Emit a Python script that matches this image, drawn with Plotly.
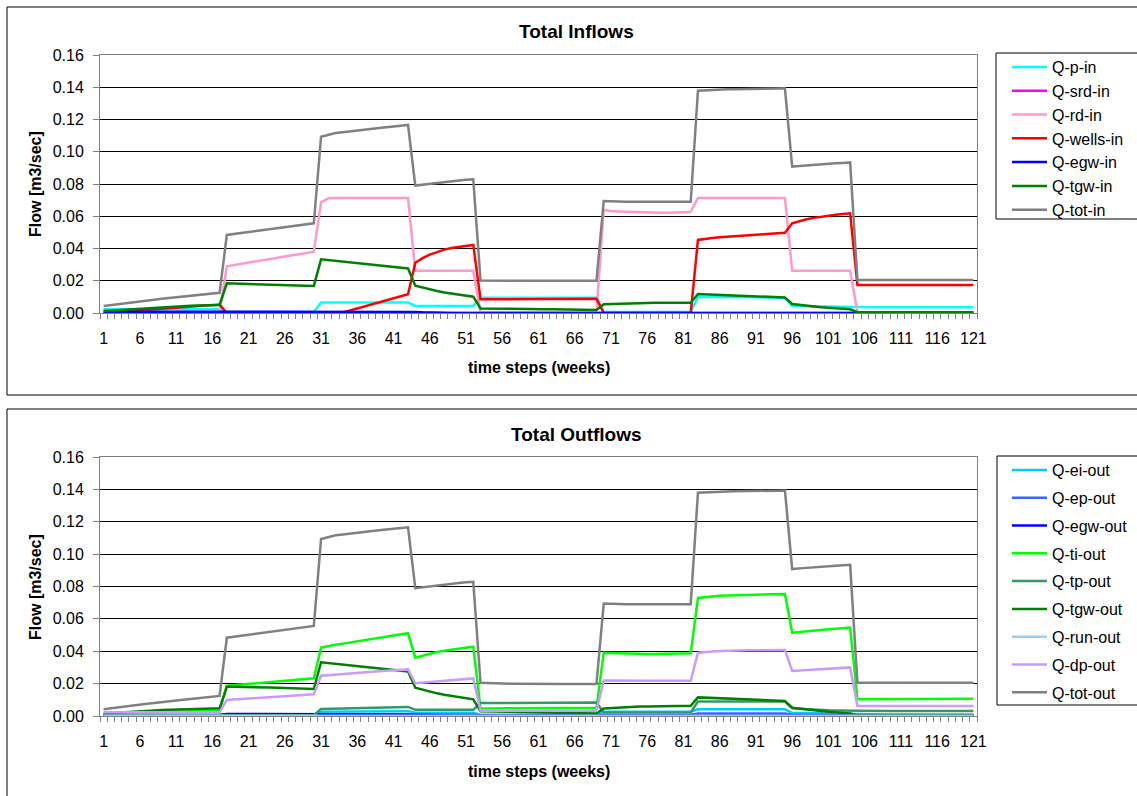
import plotly.graph_objects as go

# ---------------- data ----------------
weeks = list(range(1, 122))
tick_weeks = list(range(1, 122, 5))
tick_labels = [str(w) for w in tick_weeks]

# segments: wk1-17 | 18-30 | 31-43 | 44-52 | 53-69 | 70-82 | 83-95 | 96-104 | 105-121
q_p_in = (
    [0.0023, 0.0023, 0.0023, 0.0023, 0.0023, 0.0023, 0.0023, 0.0023, 0.0023, 0.0023, 0.0023, 0.0023, 0.0023, 0.0023, 0.0023, 0.0023, 0.0023]
    + [0.0006, 0.0006, 0.0006, 0.0006, 0.0006, 0.0006, 0.0006, 0.0006, 0.0006, 0.0006, 0.0006, 0.0006, 0.0006]
    + [0.0065, 0.0065, 0.0065, 0.0065, 0.0065, 0.0065, 0.0065, 0.0065, 0.0065, 0.0065, 0.0065, 0.0065, 0.0065]
    + [0.0044, 0.0044, 0.0044, 0.0044, 0.0044, 0.0044, 0.0044, 0.0044, 0.0044]
    + [0.0095, 0.0095, 0.0095, 0.0095, 0.0095, 0.0095, 0.0095, 0.0095, 0.0095, 0.0095, 0.0095, 0.0095, 0.0095, 0.0095, 0.0095, 0.0095, 0.0095]
    + [0.0006, 0.0006, 0.0006, 0.0006, 0.0006, 0.0006, 0.0006, 0.0006, 0.0006, 0.0006, 0.0006, 0.0006, 0.0006]
    + [0.0101, 0.0101, 0.0100, 0.0100, 0.0099, 0.0099, 0.0098, 0.0097, 0.0097, 0.0096, 0.0095, 0.0094, 0.0093]
    + [0.0043, 0.0042, 0.0041, 0.0040, 0.0039, 0.0038, 0.0037, 0.0037, 0.0036]
    + [0.0035, 0.0035, 0.0035, 0.0035, 0.0035, 0.0035, 0.0035, 0.0035, 0.0035, 0.0035, 0.0035, 0.0035, 0.0035, 0.0035, 0.0035, 0.0035, 0.0035]
)

q_srd_in = (
    [0.0, 0.0, 0.0, 0.0, 0.0, 0.0, 0.0, 0.0, 0.0, 0.0, 0.0, 0.0, 0.0, 0.0, 0.0, 0.0, 0.0]
    + [0.0, 0.0, 0.0, 0.0, 0.0, 0.0, 0.0, 0.0, 0.0, 0.0, 0.0, 0.0, 0.0]
    + [0.0, 0.0, 0.0, 0.0, 0.0, 0.0, 0.0, 0.0, 0.0, 0.0, 0.0, 0.0, 0.0]
    + [0.0, 0.0, 0.0, 0.0, 0.0, 0.0, 0.0, 0.0, 0.0]
    + [0.0, 0.0, 0.0, 0.0, 0.0, 0.0, 0.0, 0.0, 0.0, 0.0, 0.0, 0.0, 0.0, 0.0, 0.0, 0.0, 0.0]
    + [0.0, 0.0, 0.0, 0.0, 0.0, 0.0, 0.0, 0.0, 0.0, 0.0, 0.0, 0.0, 0.0]
    + [0.0, 0.0, 0.0, 0.0, 0.0, 0.0, 0.0, 0.0, 0.0, 0.0, 0.0, 0.0, 0.0]
    + [0.0, 0.0, 0.0, 0.0, 0.0, 0.0, 0.0, 0.0, 0.0]
    + [0.0, 0.0, 0.0, 0.0, 0.0, 0.0, 0.0, 0.0, 0.0, 0.0, 0.0, 0.0, 0.0, 0.0, 0.0, 0.0, 0.0]
)

q_rd_in = (
    [0.0005, 0.0005, 0.0005, 0.0005, 0.0005, 0.0005, 0.0005, 0.0005, 0.0005, 0.0005, 0.0005, 0.0005, 0.0005, 0.0005, 0.0005, 0.0005, 0.0005]
    + [0.0290, 0.0298, 0.0305, 0.0313, 0.0320, 0.0328, 0.0335, 0.0343, 0.0350, 0.0358, 0.0365, 0.0373, 0.0380]
    + [0.0686, 0.0711, 0.0713, 0.0713, 0.0713, 0.0713, 0.0713, 0.0713, 0.0713, 0.0713, 0.0713, 0.0713, 0.0713]
    + [0.0262, 0.0262, 0.0262, 0.0262, 0.0262, 0.0262, 0.0262, 0.0262, 0.0262]
    + [0.0005, 0.0005, 0.0005, 0.0005, 0.0005, 0.0005, 0.0005, 0.0005, 0.0005, 0.0005, 0.0005, 0.0005, 0.0005, 0.0005, 0.0005, 0.0005, 0.0005]
    + [0.0639, 0.0632, 0.0630, 0.0628, 0.0626, 0.0624, 0.0623, 0.0622, 0.0622, 0.0622, 0.0622, 0.0623, 0.0626]
    + [0.0713, 0.0713, 0.0713, 0.0713, 0.0713, 0.0713, 0.0713, 0.0713, 0.0713, 0.0713, 0.0713, 0.0713, 0.0713]
    + [0.0262, 0.0262, 0.0262, 0.0262, 0.0262, 0.0262, 0.0262, 0.0262, 0.0262]
    + [0.0005, 0.0005, 0.0005, 0.0005, 0.0005, 0.0005, 0.0005, 0.0005, 0.0005, 0.0005, 0.0005, 0.0005, 0.0005, 0.0005, 0.0005, 0.0005, 0.0005]
)

q_wells_in = (
    [0.0000, 0.0004, 0.0008, 0.0011, 0.0015, 0.0018, 0.0021, 0.0024, 0.0027, 0.0030, 0.0033, 0.0036, 0.0039, 0.0042, 0.0045, 0.0048, 0.0052]
    + [0.0, 0.0, 0.0, 0.0, 0.0, 0.0, 0.0, 0.0, 0.0, 0.0, 0.0, 0.0, 0.0]
    + [0.0000, 0.0000, 0.0000, 0.0003, 0.0015, 0.0028, 0.0041, 0.0054, 0.0067, 0.0080, 0.0093, 0.0104, 0.0116]
    + [0.0312, 0.0340, 0.0362, 0.0380, 0.0393, 0.0403, 0.0410, 0.0416, 0.0422]
    + [0.0085, 0.0085, 0.0085, 0.0085, 0.0085, 0.0086, 0.0086, 0.0087, 0.0087, 0.0087, 0.0088, 0.0088, 0.0088, 0.0088, 0.0088, 0.0088, 0.0088]
    + [0.0, 0.0, 0.0, 0.0, 0.0, 0.0, 0.0, 0.0, 0.0, 0.0, 0.0, 0.0, 0.0]
    + [0.0453, 0.0460, 0.0465, 0.0469, 0.0473, 0.0477, 0.0480, 0.0483, 0.0486, 0.0489, 0.0492, 0.0495, 0.0498]
    + [0.0556, 0.0570, 0.0581, 0.0590, 0.0598, 0.0605, 0.0610, 0.0614, 0.0618]
    + [0.0173, 0.0173, 0.0173, 0.0173, 0.0173, 0.0173, 0.0173, 0.0173, 0.0173, 0.0173, 0.0173, 0.0173, 0.0173, 0.0173, 0.0173, 0.0173, 0.0173]
)

q_egw_in = (
    [0.0008, 0.0008, 0.0008, 0.0008, 0.0008, 0.0008, 0.0008, 0.0008, 0.0008, 0.0008, 0.0008, 0.0008, 0.0008, 0.0008, 0.0008, 0.0008, 0.0008]
    + [0.0010, 0.0010, 0.0010, 0.0010, 0.0010, 0.0010, 0.0010, 0.0010, 0.0010, 0.0010, 0.0010, 0.0010, 0.0010]
    + [0.0010, 0.0010, 0.0010, 0.0010, 0.0010, 0.0010, 0.0010, 0.0010, 0.0010, 0.0009, 0.0009, 0.0009, 0.0008]
    + [0.0006, 0.0004, 0.0002, 0.0001, 0.0, 0.0, 0.0, 0.0, 0.0]
    + [0.0, 0.0, 0.0, 0.0, 0.0, 0.0, 0.0, 0.0, 0.0, 0.0, 0.0, 0.0, 0.0, 0.0, 0.0, 0.0, 0.0]
    + [0.0, 0.0, 0.0, 0.0, 0.0, 0.0, 0.0, 0.0, 0.0, 0.0, 0.0, 0.0, 0.0]
    + [0.0, 0.0, 0.0, 0.0, 0.0, 0.0, 0.0, 0.0, 0.0, 0.0, 0.0, 0.0, 0.0]
    + [0.0, 0.0, 0.0, 0.0, 0.0, 0.0, 0.0, 0.0, 0.0]
    + [0.0, 0.0, 0.0, 0.0, 0.0, 0.0, 0.0, 0.0, 0.0, 0.0, 0.0, 0.0, 0.0, 0.0, 0.0, 0.0, 0.0]
)

q_tgw_in = (
    [0.0012, 0.0015, 0.0018, 0.0021, 0.0024, 0.0027, 0.0030, 0.0033, 0.0036, 0.0039, 0.0041, 0.0043, 0.0045, 0.0046, 0.0047, 0.0048, 0.0050]
    + [0.0184, 0.0183, 0.0182, 0.0181, 0.0180, 0.0179, 0.0178, 0.0177, 0.0176, 0.0175, 0.0174, 0.0171, 0.0168]
    + [0.0333, 0.0328, 0.0323, 0.0318, 0.0313, 0.0308, 0.0303, 0.0298, 0.0293, 0.0288, 0.0284, 0.0280, 0.0276]
    + [0.0169, 0.0157, 0.0146, 0.0136, 0.0127, 0.0120, 0.0113, 0.0107, 0.0101]
    + [0.0028, 0.0027, 0.0027, 0.0026, 0.0026, 0.0025, 0.0025, 0.0024, 0.0024, 0.0023, 0.0023, 0.0022, 0.0022, 0.0021, 0.0021, 0.0020, 0.0019]
    + [0.0054, 0.0056, 0.0058, 0.0059, 0.0060, 0.0061, 0.0062, 0.0063, 0.0063, 0.0064, 0.0064, 0.0064, 0.0064]
    + [0.0118, 0.0116, 0.0114, 0.0112, 0.0110, 0.0108, 0.0106, 0.0104, 0.0102, 0.0100, 0.0098, 0.0097, 0.0096]
    + [0.0056, 0.0050, 0.0045, 0.0040, 0.0036, 0.0032, 0.0029, 0.0026, 0.0023]
    + [0.0005, 0.0005, 0.0005, 0.0005, 0.0005, 0.0005, 0.0005, 0.0005, 0.0005, 0.0005, 0.0005, 0.0005, 0.0005, 0.0005, 0.0005, 0.0005, 0.0005]
)

q_tot_in = (
    [0.0043, 0.0048, 0.0053, 0.0058, 0.0064, 0.0070, 0.0076, 0.0082, 0.0088, 0.0093, 0.0098, 0.0102, 0.0106, 0.0110, 0.0114, 0.0119, 0.0125]
    + [0.0484, 0.0490, 0.0496, 0.0502, 0.0508, 0.0513, 0.0518, 0.0524, 0.0530, 0.0536, 0.0542, 0.0549, 0.0556]
    + [0.1093, 0.1105, 0.1116, 0.1121, 0.1127, 0.1133, 0.1139, 0.1143, 0.1147, 0.1152, 0.1157, 0.1162, 0.1166]
    + [0.0790, 0.0796, 0.0802, 0.0808, 0.0813, 0.0818, 0.0822, 0.0826, 0.0829]
    + [0.0201, 0.0201, 0.0200, 0.0200, 0.0200, 0.0200, 0.0200, 0.0200, 0.0200, 0.0200, 0.0200, 0.0200, 0.0200, 0.0200, 0.0200, 0.0200, 0.0200]
    + [0.0695, 0.0692, 0.0690, 0.0690, 0.0690, 0.0690, 0.0690, 0.0690, 0.0690, 0.0690, 0.0690, 0.0690, 0.0690]
    + [0.1379, 0.1382, 0.1385, 0.1386, 0.1387, 0.1388, 0.1388, 0.1389, 0.1390, 0.1390, 0.1391, 0.1392, 0.1393]
    + [0.0908, 0.0912, 0.0916, 0.0919, 0.0922, 0.0925, 0.0928, 0.0931, 0.0934]
    + [0.0205, 0.0205, 0.0205, 0.0205, 0.0205, 0.0205, 0.0205, 0.0205, 0.0205, 0.0205, 0.0205, 0.0205, 0.0205, 0.0205, 0.0205, 0.0205, 0.0205]
)

q_ei_out = (
    [0.0005, 0.0005, 0.0005, 0.0005, 0.0005, 0.0005, 0.0005, 0.0005, 0.0005, 0.0005, 0.0005, 0.0005, 0.0005, 0.0005, 0.0005, 0.0005, 0.0005]
    + [0.0008, 0.0008, 0.0008, 0.0008, 0.0008, 0.0008, 0.0008, 0.0008, 0.0008, 0.0008, 0.0008, 0.0008, 0.0008]
    + [0.0026, 0.0026, 0.0027, 0.0027, 0.0027, 0.0028, 0.0028, 0.0028, 0.0029, 0.0029, 0.0029, 0.0030, 0.0030]
    + [0.0020, 0.0020, 0.0020, 0.0020, 0.0020, 0.0020, 0.0020, 0.0020, 0.0020]
    + [0.0008, 0.0008, 0.0008, 0.0008, 0.0008, 0.0008, 0.0008, 0.0008, 0.0008, 0.0008, 0.0008, 0.0008, 0.0008, 0.0008, 0.0008, 0.0008, 0.0008]
    + [0.0027, 0.0027, 0.0027, 0.0027, 0.0027, 0.0027, 0.0027, 0.0027, 0.0027, 0.0027, 0.0027, 0.0027, 0.0027]
    + [0.0041, 0.0041, 0.0041, 0.0041, 0.0041, 0.0041, 0.0041, 0.0041, 0.0041, 0.0041, 0.0041, 0.0041, 0.0041]
    + [0.0020, 0.0019, 0.0018, 0.0017, 0.0016, 0.0015, 0.0014, 0.0013, 0.0012]
    + [0.0010, 0.0010, 0.0010, 0.0010, 0.0010, 0.0010, 0.0010, 0.0010, 0.0010, 0.0010, 0.0010, 0.0010, 0.0010, 0.0010, 0.0010, 0.0010, 0.0010]
)

q_ep_out = (
    [0.0004, 0.0004, 0.0004, 0.0004, 0.0004, 0.0004, 0.0004, 0.0004, 0.0004, 0.0004, 0.0004, 0.0004, 0.0004, 0.0004, 0.0004, 0.0004, 0.0004]
    + [0.0010, 0.0010, 0.0010, 0.0010, 0.0010, 0.0010, 0.0010, 0.0010, 0.0010, 0.0010, 0.0010, 0.0010, 0.0010]
    + [0.0012, 0.0012, 0.0012, 0.0012, 0.0012, 0.0012, 0.0012, 0.0012, 0.0012, 0.0012, 0.0012, 0.0012, 0.0012]
    + [0.0008, 0.0008, 0.0008, 0.0008, 0.0008, 0.0008, 0.0008, 0.0008, 0.0008]
    + [0.0004, 0.0004, 0.0004, 0.0004, 0.0004, 0.0004, 0.0004, 0.0004, 0.0004, 0.0004, 0.0004, 0.0004, 0.0004, 0.0004, 0.0004, 0.0004, 0.0004]
    + [0.0008, 0.0008, 0.0008, 0.0008, 0.0008, 0.0008, 0.0008, 0.0008, 0.0008, 0.0008, 0.0008, 0.0008, 0.0008]
    + [0.0015, 0.0015, 0.0015, 0.0015, 0.0015, 0.0015, 0.0015, 0.0015, 0.0015, 0.0015, 0.0015, 0.0015, 0.0015]
    + [0.0008, 0.0008, 0.0008, 0.0008, 0.0008, 0.0008, 0.0008, 0.0008, 0.0008]
    + [0.0004, 0.0004, 0.0004, 0.0004, 0.0004, 0.0004, 0.0004, 0.0004, 0.0004, 0.0004, 0.0004, 0.0004, 0.0004, 0.0004, 0.0004, 0.0004, 0.0004]
)

q_egw_out = (
    [0.0006, 0.0006, 0.0006, 0.0006, 0.0006, 0.0006, 0.0006, 0.0006, 0.0006, 0.0006, 0.0006, 0.0006, 0.0006, 0.0006, 0.0006, 0.0006, 0.0006]
    + [0.0013, 0.0013, 0.0013, 0.0013, 0.0013, 0.0013, 0.0013, 0.0013, 0.0013, 0.0013, 0.0013, 0.0013, 0.0013]
    + [0.0013, 0.0013, 0.0012, 0.0012, 0.0012, 0.0012, 0.0012, 0.0011, 0.0011, 0.0011, 0.0010, 0.0010, 0.0009]
    + [0.0007, 0.0005, 0.0003, 0.0002, 0.0001, 0.0001, 0.0001, 0.0001, 0.0001]
    + [0.0001, 0.0001, 0.0001, 0.0001, 0.0001, 0.0001, 0.0001, 0.0001, 0.0001, 0.0001, 0.0001, 0.0001, 0.0001, 0.0001, 0.0001, 0.0001, 0.0001]
    + [0.0001, 0.0001, 0.0001, 0.0001, 0.0001, 0.0001, 0.0001, 0.0001, 0.0001, 0.0001, 0.0001, 0.0001, 0.0001]
    + [0.0001, 0.0001, 0.0001, 0.0001, 0.0001, 0.0001, 0.0001, 0.0001, 0.0001, 0.0001, 0.0001, 0.0001, 0.0001]
    + [0.0001, 0.0001, 0.0001, 0.0001, 0.0001, 0.0001, 0.0001, 0.0001, 0.0001]
    + [0.0001, 0.0001, 0.0001, 0.0001, 0.0001, 0.0001, 0.0001, 0.0001, 0.0001, 0.0001, 0.0001, 0.0001, 0.0001, 0.0001, 0.0001, 0.0001, 0.0001]
)

q_ti_out = (
    [0.0010, 0.0012, 0.0014, 0.0016, 0.0018, 0.0020, 0.0022, 0.0024, 0.0025, 0.0026, 0.0027, 0.0028, 0.0029, 0.0030, 0.0031, 0.0032, 0.0033]
    + [0.0187, 0.0191, 0.0195, 0.0199, 0.0203, 0.0207, 0.0211, 0.0214, 0.0218, 0.0221, 0.0225, 0.0229, 0.0233]
    + [0.0422, 0.0432, 0.0440, 0.0447, 0.0454, 0.0461, 0.0468, 0.0475, 0.0482, 0.0489, 0.0496, 0.0503, 0.0511]
    + [0.0360, 0.0373, 0.0385, 0.0395, 0.0403, 0.0410, 0.0416, 0.0422, 0.0428]
    + [0.0047, 0.0047, 0.0048, 0.0048, 0.0048, 0.0049, 0.0049, 0.0049, 0.0050, 0.0050, 0.0050, 0.0050, 0.0050, 0.0050, 0.0050, 0.0051, 0.0051]
    + [0.0391, 0.0389, 0.0387, 0.0386, 0.0385, 0.0384, 0.0383, 0.0383, 0.0383, 0.0383, 0.0384, 0.0385, 0.0387]
    + [0.0729, 0.0735, 0.0740, 0.0743, 0.0745, 0.0747, 0.0748, 0.0749, 0.0750, 0.0751, 0.0752, 0.0753, 0.0754]
    + [0.0515, 0.0520, 0.0524, 0.0528, 0.0532, 0.0536, 0.0539, 0.0543, 0.0546]
    + [0.0103, 0.0103, 0.0103, 0.0103, 0.0103, 0.0103, 0.0103, 0.0103, 0.0103, 0.0103, 0.0103, 0.0103, 0.0103, 0.0103, 0.0103, 0.0104, 0.0106]
)

q_tp_out = (
    [0.0005, 0.0005, 0.0005, 0.0005, 0.0005, 0.0005, 0.0005, 0.0005, 0.0005, 0.0005, 0.0005, 0.0005, 0.0005, 0.0005, 0.0005, 0.0005, 0.0005]
    + [0.0005, 0.0005, 0.0005, 0.0005, 0.0005, 0.0005, 0.0005, 0.0005, 0.0005, 0.0005, 0.0005, 0.0005, 0.0005]
    + [0.0044, 0.0045, 0.0046, 0.0047, 0.0048, 0.0049, 0.0050, 0.0051, 0.0052, 0.0053, 0.0054, 0.0055, 0.0056]
    + [0.0038, 0.0038, 0.0038, 0.0038, 0.0038, 0.0038, 0.0038, 0.0038, 0.0038]
    + [0.0080, 0.0080, 0.0081, 0.0081, 0.0082, 0.0082, 0.0082, 0.0083, 0.0083, 0.0083, 0.0083, 0.0084, 0.0084, 0.0084, 0.0084, 0.0084, 0.0084]
    + [0.0022, 0.0022, 0.0022, 0.0022, 0.0022, 0.0022, 0.0022, 0.0022, 0.0022, 0.0022, 0.0022, 0.0022, 0.0022]
    + [0.0089, 0.0089, 0.0089, 0.0089, 0.0089, 0.0089, 0.0089, 0.0089, 0.0089, 0.0089, 0.0089, 0.0089, 0.0089]
    + [0.0047, 0.0044, 0.0041, 0.0039, 0.0037, 0.0035, 0.0034, 0.0033, 0.0032]
    + [0.0031, 0.0031, 0.0031, 0.0031, 0.0031, 0.0031, 0.0031, 0.0031, 0.0031, 0.0031, 0.0031, 0.0031, 0.0031, 0.0031, 0.0031, 0.0031, 0.0031]
)

q_tgw_out = (
    [0.0016, 0.0018, 0.0021, 0.0024, 0.0027, 0.0030, 0.0032, 0.0034, 0.0037, 0.0039, 0.0041, 0.0043, 0.0044, 0.0045, 0.0046, 0.0047, 0.0047]
    + [0.0181, 0.0180, 0.0180, 0.0179, 0.0178, 0.0177, 0.0176, 0.0175, 0.0174, 0.0173, 0.0172, 0.0170, 0.0167]
    + [0.0332, 0.0327, 0.0322, 0.0318, 0.0313, 0.0308, 0.0303, 0.0298, 0.0294, 0.0289, 0.0285, 0.0280, 0.0275]
    + [0.0175, 0.0162, 0.0150, 0.0140, 0.0131, 0.0123, 0.0116, 0.0109, 0.0103]
    + [0.0030, 0.0029, 0.0028, 0.0027, 0.0026, 0.0025, 0.0024, 0.0023, 0.0022, 0.0021, 0.0020, 0.0019, 0.0019, 0.0018, 0.0017, 0.0017, 0.0016]
    + [0.0047, 0.0050, 0.0052, 0.0054, 0.0056, 0.0058, 0.0059, 0.0060, 0.0061, 0.0062, 0.0062, 0.0062, 0.0063]
    + [0.0115, 0.0113, 0.0111, 0.0109, 0.0107, 0.0105, 0.0103, 0.0101, 0.0099, 0.0097, 0.0095, 0.0094, 0.0093]
    + [0.0051, 0.0045, 0.0040, 0.0035, 0.0031, 0.0027, 0.0023, 0.0019, 0.0016]
    + [0.0003, 0.0003, 0.0003, 0.0003, 0.0003, 0.0003, 0.0003, 0.0003, 0.0003, 0.0003, 0.0003, 0.0003, 0.0003, 0.0003, 0.0003, 0.0003, 0.0003]
)

q_run_out = (
    [0.0002, 0.0002, 0.0002, 0.0002, 0.0002, 0.0002, 0.0002, 0.0002, 0.0002, 0.0002, 0.0002, 0.0002, 0.0002, 0.0002, 0.0002, 0.0002, 0.0002]
    + [0.0002, 0.0002, 0.0002, 0.0002, 0.0002, 0.0002, 0.0002, 0.0002, 0.0002, 0.0002, 0.0002, 0.0002, 0.0002]
    + [0.0002, 0.0002, 0.0002, 0.0002, 0.0002, 0.0002, 0.0002, 0.0002, 0.0002, 0.0002, 0.0002, 0.0002, 0.0002]
    + [0.0002, 0.0002, 0.0002, 0.0002, 0.0002, 0.0002, 0.0002, 0.0002, 0.0002]
    + [0.0002, 0.0002, 0.0002, 0.0002, 0.0002, 0.0002, 0.0002, 0.0002, 0.0002, 0.0002, 0.0002, 0.0002, 0.0002, 0.0002, 0.0002, 0.0002, 0.0002]
    + [0.0002, 0.0002, 0.0002, 0.0002, 0.0002, 0.0002, 0.0002, 0.0002, 0.0002, 0.0002, 0.0002, 0.0002, 0.0002]
    + [0.0002, 0.0002, 0.0002, 0.0002, 0.0002, 0.0002, 0.0002, 0.0002, 0.0002, 0.0002, 0.0002, 0.0002, 0.0002]
    + [0.0002, 0.0002, 0.0002, 0.0002, 0.0002, 0.0002, 0.0002, 0.0002, 0.0002]
    + [0.0002, 0.0002, 0.0002, 0.0002, 0.0002, 0.0002, 0.0002, 0.0002, 0.0002, 0.0002, 0.0002, 0.0002, 0.0002, 0.0002, 0.0002, 0.0002, 0.0002]
)

q_dp_out = (
    [0.0023, 0.0023, 0.0023, 0.0023, 0.0023, 0.0023, 0.0023, 0.0023, 0.0023, 0.0023, 0.0023, 0.0023, 0.0023, 0.0023, 0.0023, 0.0023, 0.0023]
    + [0.0099, 0.0102, 0.0105, 0.0108, 0.0111, 0.0114, 0.0117, 0.0120, 0.0123, 0.0125, 0.0128, 0.0131, 0.0134]
    + [0.0249, 0.0253, 0.0257, 0.0261, 0.0265, 0.0268, 0.0271, 0.0274, 0.0277, 0.0280, 0.0283, 0.0286, 0.0288]
    + [0.0202, 0.0206, 0.0210, 0.0214, 0.0218, 0.0222, 0.0226, 0.0229, 0.0232]
    + [0.0033, 0.0033, 0.0033, 0.0033, 0.0033, 0.0033, 0.0033, 0.0033, 0.0033, 0.0033, 0.0033, 0.0033, 0.0033, 0.0033, 0.0033, 0.0033, 0.0033]
    + [0.0220, 0.0219, 0.0218, 0.0218, 0.0218, 0.0218, 0.0218, 0.0218, 0.0218, 0.0218, 0.0218, 0.0218, 0.0218]
    + [0.0391, 0.0396, 0.0399, 0.0401, 0.0403, 0.0404, 0.0405, 0.0406, 0.0406, 0.0407, 0.0407, 0.0408, 0.0408]
    + [0.0278, 0.0281, 0.0284, 0.0287, 0.0290, 0.0293, 0.0295, 0.0298, 0.0300]
    + [0.0062, 0.0062, 0.0062, 0.0062, 0.0062, 0.0062, 0.0062, 0.0062, 0.0062, 0.0062, 0.0062, 0.0062, 0.0062, 0.0062, 0.0062, 0.0062, 0.0062]
)

q_tot_out = (
    [0.0041, 0.0046, 0.0051, 0.0057, 0.0063, 0.0069, 0.0075, 0.0081, 0.0087, 0.0092, 0.0097, 0.0101, 0.0105, 0.0109, 0.0113, 0.0118, 0.0124]
    + [0.0484, 0.0490, 0.0496, 0.0502, 0.0508, 0.0513, 0.0518, 0.0524, 0.0530, 0.0536, 0.0542, 0.0549, 0.0556]
    + [0.1093, 0.1105, 0.1116, 0.1121, 0.1127, 0.1133, 0.1139, 0.1143, 0.1147, 0.1152, 0.1157, 0.1162, 0.1166]
    + [0.0790, 0.0796, 0.0802, 0.0808, 0.0813, 0.0818, 0.0822, 0.0826, 0.0829]
    + [0.0205, 0.0203, 0.0202, 0.0201, 0.0200, 0.0200, 0.0199, 0.0199, 0.0199, 0.0198, 0.0198, 0.0198, 0.0198, 0.0198, 0.0198, 0.0198, 0.0198]
    + [0.0695, 0.0692, 0.0690, 0.0690, 0.0690, 0.0690, 0.0690, 0.0690, 0.0690, 0.0690, 0.0690, 0.0690, 0.0690]
    + [0.1379, 0.1382, 0.1385, 0.1386, 0.1387, 0.1388, 0.1388, 0.1389, 0.1390, 0.1390, 0.1391, 0.1392, 0.1393]
    + [0.0908, 0.0912, 0.0916, 0.0919, 0.0922, 0.0925, 0.0928, 0.0931, 0.0934]
    + [0.0206, 0.0206, 0.0206, 0.0206, 0.0206, 0.0206, 0.0206, 0.0206, 0.0206, 0.0206, 0.0206, 0.0206, 0.0206, 0.0206, 0.0206, 0.0206, 0.0206]
)

inflow_names = ["Q-p-in", "Q-srd-in", "Q-rd-in", "Q-wells-in", "Q-egw-in", "Q-tgw-in", "Q-tot-in"]
inflow_values = [q_p_in, q_srd_in, q_rd_in, q_wells_in, q_egw_in, q_tgw_in, q_tot_in]
inflow_colors = ["#00FFFF", "#FF00FF", "#FF99CC", "#FF0000", "#0000FF", "#008000", "#808080"]

outflow_names = ["Q-ei-out", "Q-ep-out", "Q-egw-out", "Q-ti-out", "Q-tp-out", "Q-tgw-out",
                 "Q-run-out", "Q-dp-out", "Q-tot-out"]
outflow_values = [q_ei_out, q_ep_out, q_egw_out, q_ti_out, q_tp_out, q_tgw_out,
                  q_run_out, q_dp_out, q_tot_out]
outflow_colors = ["#00CCFF", "#3366FF", "#0000FF", "#00FF00", "#339966", "#008000",
                  "#99CCFF", "#CC99FF", "#808080"]

# ---------------- layout helpers ----------------
W, H = 1137, 796
FONT = "Liberation Sans, Arial, sans-serif"


def px(x):
    return x / W


def py(y):
    return 1 - y / H


fig = go.Figure()

for name, vals, col in zip(inflow_names, inflow_values, inflow_colors):
    fig.add_trace(go.Scatter(x=weeks, y=vals, name=name, mode="lines",
                             line=dict(color=col, width=2.5),
                             xaxis="x", yaxis="y", legend="legend"))

for name, vals, col in zip(outflow_names, outflow_values, outflow_colors):
    fig.add_trace(go.Scatter(x=weeks, y=vals, name=name, mode="lines",
                             line=dict(color=col, width=2.5),
                             xaxis="x2", yaxis="y2", legend="legend2",
                             legendgroup=name))


def xaxis_cfg(anchor):
    return dict(
        domain=[px(100), px(977)], anchor=anchor,
        range=[0.5, 121.5], tickmode="array", tickvals=tick_weeks, ticktext=tick_labels,
        ticks="", showgrid=False, zeroline=False,
        showline=True, linecolor="#808080", linewidth=1, mirror=True,
        tickfont=dict(family=FONT, size=16, color="black"),
        ticklabelstandoff=11,
        minor=dict(ticks="outside", tick0=0.5, dtick=1, ticklen=5,
                   tickcolor="#808080", tickwidth=1, showgrid=False),
    )


def yaxis_cfg(anchor, top, bottom):
    return dict(
        domain=[py(bottom), py(top)], anchor=anchor,
        range=[0, 0.16], dtick=0.02, tick0=0, tickformat=".2f",
        ticks="outside", ticklen=6, tickcolor="#808080",
        showgrid=True, gridcolor="black", gridwidth=1, zeroline=False,
        showline=True, linecolor="#808080", linewidth=1, mirror=True,
        tickfont=dict(family=FONT, size=16, color="black"),
        ticklabelstandoff=6,
    )


legend_common = dict(
    xref="paper", yref="paper", xanchor="left", yanchor="top",
    bgcolor="rgba(0,0,0,0)", borderwidth=0,
    font=dict(family=FONT, size=16, color="black"),
    itemwidth=35,
)

shapes = [
    dict(type="rect", xref="paper", yref="paper", x0=px(7), x1=px(1150), y0=py(395), y1=py(7),
         line=dict(color="black", width=1), layer="below"),
    dict(type="rect", xref="paper", yref="paper", x0=px(7), x1=px(1150), y0=py(810), y1=py(409),
         line=dict(color="black", width=1), layer="below"),
    dict(type="rect", xref="paper", yref="paper", x0=px(996), x1=px(1150), y0=py(219), y1=py(53),
         line=dict(color="black", width=1), layer="below"),
    dict(type="rect", xref="paper", yref="paper", x0=px(997), x1=px(1150), y0=py(705), y1=py(456),
         line=dict(color="black", width=1), layer="below"),
]

ann_font_b = dict(family=FONT, size=16, color="black")
annotations = [
    dict(text="<b>Total Inflows</b>", x=px(576), y=py(32), xref="paper", yref="paper",
         showarrow=False, xanchor="center", yanchor="middle",
         font=dict(family=FONT, size=19, color="black")),
    dict(text="<b>Total Outflows</b>", x=px(576), y=py(435), xref="paper", yref="paper",
         showarrow=False, xanchor="center", yanchor="middle",
         font=dict(family=FONT, size=19, color="black")),
    dict(text="<b>time steps (weeks)</b>", x=px(539), y=py(367), xref="paper", yref="paper",
         showarrow=False, xanchor="center", yanchor="middle", font=ann_font_b),
    dict(text="<b>time steps (weeks)</b>", x=px(539), y=py(771), xref="paper", yref="paper",
         showarrow=False, xanchor="center", yanchor="middle", font=ann_font_b),
    dict(text="<b>Flow [m3/sec]</b>", x=px(35), y=py(184), xref="paper", yref="paper",
         showarrow=False, xanchor="center", yanchor="middle", textangle=-90, font=ann_font_b),
    dict(text="<b>Flow [m3/sec]</b>", x=px(35), y=py(587), xref="paper", yref="paper",
         showarrow=False, xanchor="center", yanchor="middle", textangle=-90, font=ann_font_b),
]

fig.update_layout(
    width=W, height=H, autosize=False,
    margin=dict(l=0, r=0, t=0, b=0, pad=0, autoexpand=False),
    paper_bgcolor="white", plot_bgcolor="white",
    font=dict(family=FONT, size=16, color="black"),
    xaxis=xaxis_cfg("y"),
    yaxis=yaxis_cfg("x", 55, 313),
    xaxis2=xaxis_cfg("y2"),
    yaxis2=yaxis_cfg("x2", 457, 716),
    legend=dict(x=px(1007), y=py(50), **legend_common),
    legend2=dict(x=px(1007), y=py(453), tracegroupgap=4, traceorder="grouped", **legend_common),
    shapes=shapes,
    annotations=annotations,
    showlegend=True,
)

fig.write_html("out.html", config={"displayModeBar": False},
               post_script="document.body.style.margin='0px';")
